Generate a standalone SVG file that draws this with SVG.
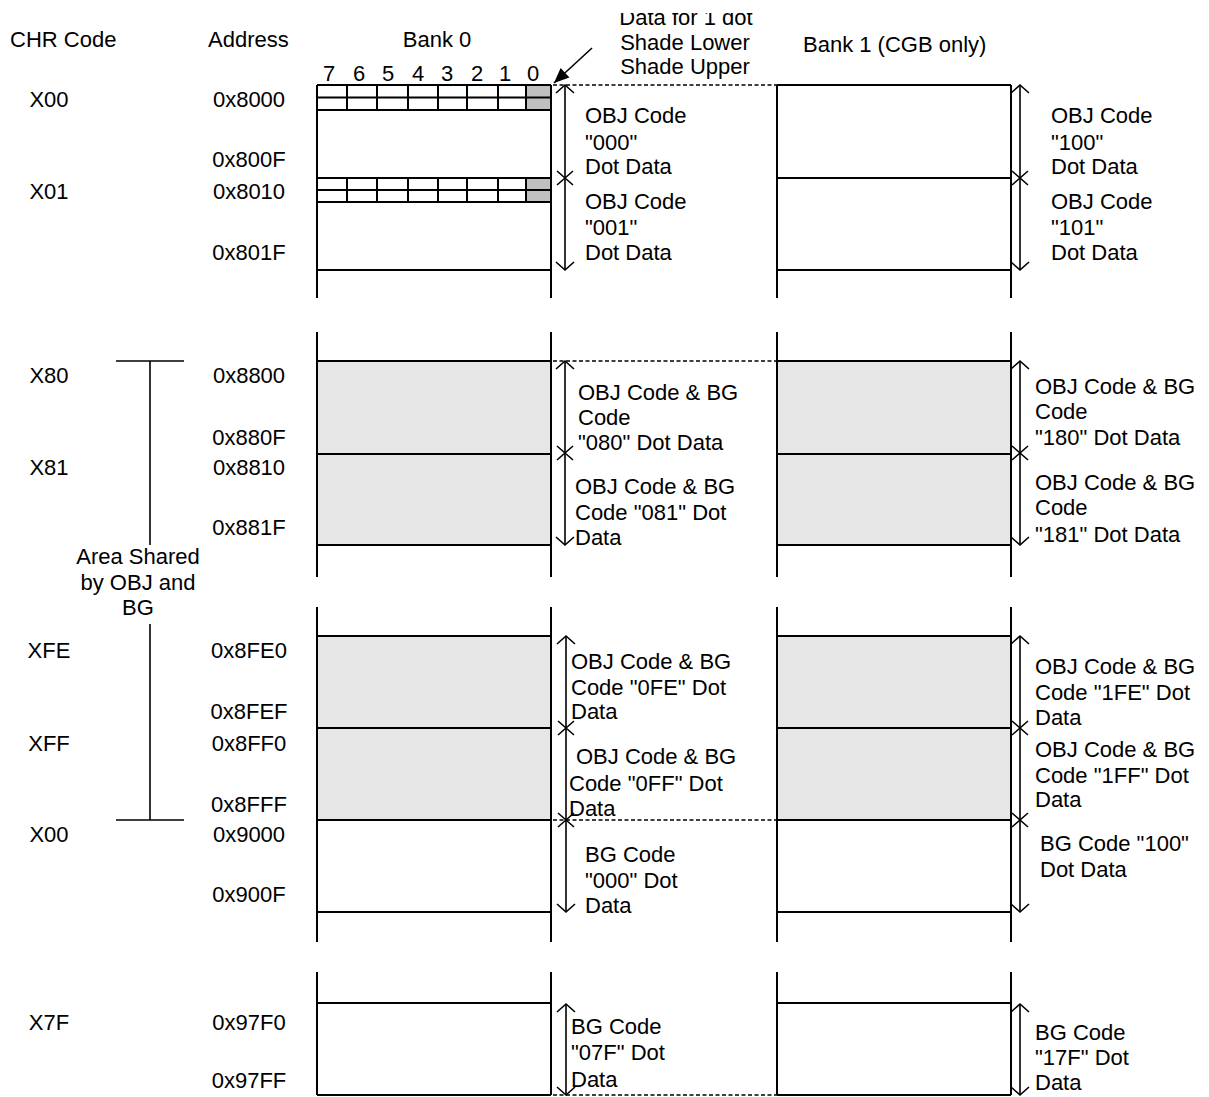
<svg xmlns="http://www.w3.org/2000/svg" width="1209" height="1097" viewBox="0 0 1209 1097">
<style>
.t{font-family:"Liberation Sans",Arial,sans-serif;font-size:22px;fill:#000}
.m{text-anchor:middle}
.ln{stroke:#000;stroke-width:2;fill:none}
.th{stroke:#000;stroke-width:1.6;fill:none}
.ds{stroke:#000;stroke-width:1.5;stroke-dasharray:4 2.5;fill:none}
.ar{stroke:#000;stroke-width:1.6;fill:none;marker-start:url(#ah);marker-end:url(#ah)}
.sh{fill:#e6e6e6}
.dk{fill:#c0c0c0}
</style>
<defs>
<marker id="ah" markerUnits="userSpaceOnUse" viewBox="-10 -10 20 20" markerWidth="20" markerHeight="20" refX="0" refY="0" orient="auto-start-reverse">
<path d="M-8 -9 L0 0 L-8 9" fill="none" stroke="#000" stroke-width="1.6"/>
</marker>
<marker id="fa" markerUnits="userSpaceOnUse" viewBox="-16 -8 18 16" markerWidth="18" markerHeight="16" refX="0" refY="0" orient="auto">
<path d="M-15 -6.5 L0 0 L-15 6.5 Z" fill="#000"/>
</marker>
<path id="xm" d="M-8 -7 L8 7 M-8 7 L8 -7" stroke="#000" stroke-width="1.6" fill="none"/>
<clipPath id="topclip"><rect x="0" y="13" width="1209" height="100"/></clipPath>
</defs>

<g id="headers">
<text class="t" x="10" y="47">CHR Code</text>
<text class="t" x="208" y="47">Address</text>
<text class="t m" x="437" y="47">Bank 0</text>
<text class="t" x="803" y="52">Bank 1 (CGB only)</text>
<g id="bit-labels">
<text class="t m" x="329" y="81">7</text>
<text class="t m" x="359" y="81">6</text>
<text class="t m" x="388" y="81">5</text>
<text class="t m" x="418" y="81">4</text>
<text class="t m" x="447" y="81">3</text>
<text class="t m" x="477" y="81">2</text>
<text class="t m" x="505" y="81">1</text>
<text class="t m" x="533" y="81">0</text>
</g>
</g>

<g id="dot-note">
<text class="t m" x="686" y="25" clip-path="url(#topclip)">Data for 1 dot</text>
<text class="t m" x="685" y="50">Shade Lower</text>
<text class="t m" x="685" y="74">Shade Upper</text>
</g>

<g id="chr-codes">
<text class="t m" x="49" y="107">X00</text>
<text class="t m" x="49" y="199">X01</text>
<text class="t m" x="49" y="383">X80</text>
<text class="t m" x="49" y="475">X81</text>
<text class="t m" x="49" y="658">XFE</text>
<text class="t m" x="49" y="751">XFF</text>
<text class="t m" x="49" y="842">X00</text>
<text class="t m" x="49" y="1030">X7F</text>
</g>

<g id="addresses">
<text class="t m" x="249" y="107">0x8000</text>
<text class="t m" x="249" y="167">0x800F</text>
<text class="t m" x="249" y="199">0x8010</text>
<text class="t m" x="249" y="260">0x801F</text>
<text class="t m" x="249" y="383">0x8800</text>
<text class="t m" x="249" y="445">0x880F</text>
<text class="t m" x="249" y="475">0x8810</text>
<text class="t m" x="249" y="535">0x881F</text>
<text class="t m" x="249" y="658">0x8FE0</text>
<text class="t m" x="249" y="719">0x8FEF</text>
<text class="t m" x="249" y="751">0x8FF0</text>
<text class="t m" x="249" y="812">0x8FFF</text>
<text class="t m" x="249" y="842">0x9000</text>
<text class="t m" x="249" y="902">0x900F</text>
<text class="t m" x="249" y="1030">0x97F0</text>
<text class="t m" x="249" y="1088">0x97FF</text>
</g>

<g id="shared-area">
<text class="t m" x="138" y="564">Area Shared</text>
<text class="t m" x="138" y="590">by OBJ and</text>
<text class="t m" x="138" y="615">BG</text>
</g>

<g id="bank0-sec1">
<rect class="dk" x="526" y="85" width="25" height="25"/>
<rect class="dk" x="526" y="178" width="25" height="24"/>
<path class="ln" d="M317 85 V298 M551 85 V298 M317 85 H551 M317 97.5 H551 M317 110 H551 M317 178 H551 M317 190 H551 M317 202 H551 M317 270 H551"/>
<path class="ln" d="M347 85 V110 M377 85 V110 M408 85 V110 M438 85 V110 M467 85 V110 M498 85 V110 M526 85 V110 M347 178 V202 M377 178 V202 M408 178 V202 M438 178 V202 M467 178 V202 M498 178 V202 M526 178 V202"/>
<text class="t" x="585" y="123">OBJ Code</text>
<text class="t" x="585" y="150">"000"</text>
<text class="t" x="585" y="174">Dot Data</text>
<text class="t" x="585" y="209">OBJ Code</text>
<text class="t" x="585" y="235">"001"</text>
<text class="t" x="585" y="260">Dot Data</text>
</g>

<g id="bank1-sec1">
<path class="ln" d="M777 85 V298 M1011 85 V298 M777 85 H1011 M777 178 H1011 M777 270 H1011"/>
<text class="t" x="1051" y="123">OBJ Code</text>
<text class="t" x="1051" y="150">"100"</text>
<text class="t" x="1051" y="174">Dot Data</text>
<text class="t" x="1051" y="209">OBJ Code</text>
<text class="t" x="1051" y="235">"101"</text>
<text class="t" x="1051" y="260">Dot Data</text>
</g>

<g id="bank0-sec2">
<rect class="sh" x="317" y="361" width="234" height="184"/>
<path class="ln" d="M317 332 V577 M551 332 V577 M317 361 H551 M317 454 H551 M317 545 H551"/>
<text class="t" x="578" y="400">OBJ Code &amp; BG</text>
<text class="t" x="578" y="425">Code</text>
<text class="t" x="578" y="450">"080" Dot Data</text>
<text class="t" x="575" y="494">OBJ Code &amp; BG</text>
<text class="t" x="575" y="520">Code "081" Dot</text>
<text class="t" x="575" y="545">Data</text>
</g>

<g id="bank1-sec2">
<rect class="sh" x="777" y="361" width="234" height="184"/>
<path class="ln" d="M777 332 V577 M1011 332 V577 M777 361 H1011 M777 454 H1011 M777 545 H1011"/>
<text class="t" x="1035" y="394">OBJ Code &amp; BG</text>
<text class="t" x="1035" y="419">Code</text>
<text class="t" x="1035" y="445">"180" Dot Data</text>
<text class="t" x="1035" y="490">OBJ Code &amp; BG</text>
<text class="t" x="1035" y="515">Code</text>
<text class="t" x="1035" y="542">"181" Dot Data</text>
</g>

<g id="bank0-sec3">
<rect class="sh" x="317" y="636" width="234" height="184"/>
<path class="ln" d="M317 607 V942 M551 607 V942 M317 636 H551 M317 728 H551 M317 820 H551 M317 912 H551"/>
<text class="t" x="571" y="669">OBJ Code &amp; BG</text>
<text class="t" x="571" y="695">Code "0FE" Dot</text>
<text class="t" x="571" y="719">Data</text>
<text class="t" x="576" y="764">OBJ Code &amp; BG</text>
<text class="t" x="569" y="791">Code "0FF" Dot</text>
<text class="t" x="569" y="816">Data</text>
<text class="t" x="585" y="862">BG Code</text>
<text class="t" x="585" y="888">"000" Dot</text>
<text class="t" x="585" y="913">Data</text>
</g>

<g id="bank1-sec3">
<rect class="sh" x="777" y="636" width="234" height="184"/>
<path class="ln" d="M777 607 V942 M1011 607 V942 M777 636 H1011 M777 728 H1011 M777 820 H1011 M777 912 H1011"/>
<text class="t" x="1035" y="674">OBJ Code &amp; BG</text>
<text class="t" x="1035" y="700">Code "1FE" Dot</text>
<text class="t" x="1035" y="725">Data</text>
<text class="t" x="1035" y="757">OBJ Code &amp; BG</text>
<text class="t" x="1035" y="783">Code "1FF" Dot</text>
<text class="t" x="1035" y="807">Data</text>
<text class="t" x="1040" y="851">BG Code "100"</text>
<text class="t" x="1040" y="877">Dot Data</text>
</g>

<g id="bank0-sec4">
<path class="ln" d="M317 972 V1095 M551 972 V1095 M317 1003 H551 M317 1095 H551"/>
<text class="t" x="571" y="1034">BG Code</text>
<text class="t" x="571" y="1060">"07F" Dot</text>
<text class="t" x="571" y="1087">Data</text>
</g>

<g id="bank1-sec4">
<path class="ln" d="M777 972 V1095 M1011 972 V1095 M777 1003 H1011 M777 1095 H1011"/>
<text class="t" x="1035" y="1040">BG Code</text>
<text class="t" x="1035" y="1065">"17F" Dot</text>
<text class="t" x="1035" y="1090">Data</text>
</g>

<g id="connectors">
<path class="ds" d="M553 85 H777 M553 361 H777 M553 820 H777 M553 1095 H777"/>
<path d="M592 48 L554 83" stroke="#000" stroke-width="1.6" fill="none" marker-end="url(#fa)"/>
<path class="ar" d="M565 85 V270"/>
<path class="ar" d="M1020 85 V270"/>
<path class="ar" d="M565 361 V545"/>
<path class="ar" d="M1020 361 V545"/>
<path class="ar" d="M566 636 V912"/>
<path class="ar" d="M1020 636 V912"/>
<path class="ar" d="M566 1004 V1095"/>
<path class="ar" d="M1020 1004 V1095"/>
<use href="#xm" x="565" y="178"/>
<use href="#xm" x="1020" y="178"/>
<use href="#xm" x="565" y="453"/>
<use href="#xm" x="1020" y="453"/>
<use href="#xm" x="566" y="728"/>
<use href="#xm" x="566" y="820"/>
<use href="#xm" x="1020" y="728"/>
<use href="#xm" x="1020" y="820"/>
<path class="th" d="M116 361 H184 M150 361 V545 M150 624 V820 M116 820 H184"/>
</g>
</svg>
